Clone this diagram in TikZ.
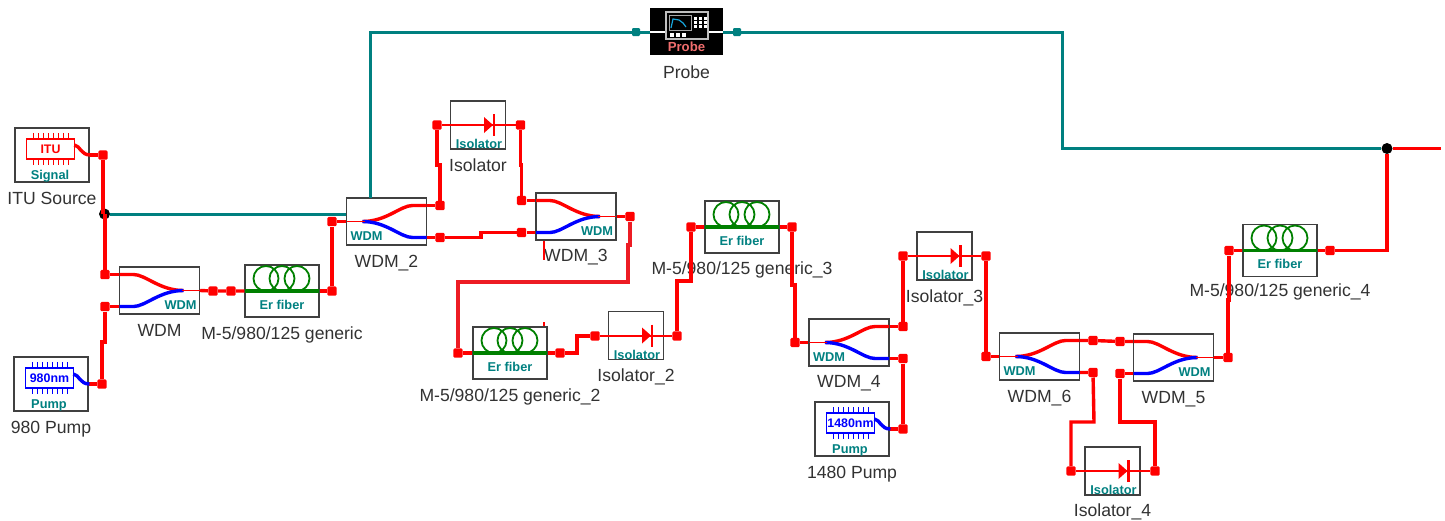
\documentclass[tikz,border=0pt]{standalone}
\usepackage{fontspec}
\setmainfont{Liberation Sans}
\usepackage{tikz}
\usetikzlibrary{positioning}

\definecolor{tealline}{RGB}{0,128,128}
\definecolor{coilgreen}{RGB}{0,128,0}
\definecolor{labelgray}{RGB}{50,50,50}
\definecolor{probepink}{RGB}{240,110,110}
\definecolor{softred}{RGB}{237,28,36}

\tikzset{
    main box/.style={rectangle, draw=black!75, line width=0.7pt, inner sep=0pt},
    coupler box/.style={main box, minimum width=40pt, minimum height=23.5pt},
    fiber box/.style={main box, minimum width=37pt, minimum height=26pt},
    iso box/.style={main box, minimum width=27.5pt, minimum height=24pt},
    source box/.style={main box, minimum width=37pt, minimum height=27pt},
    wire/.style={draw=red, line width=1.7pt, line join=miter},
    thin wire/.style={draw=red, line width=1.2pt},
    link/.style={draw=tealline, line width=1.5pt},
    port/.style={rectangle, rounded corners=0.6pt, fill=red, minimum size=4.6pt, inner sep=0pt},
    teal port/.style={port, fill=tealline, minimum size=4pt},
    joint/.style={circle, fill=black, minimum size=5.5pt, inner sep=0pt},
    tag/.style={font=\fontsize{8.8}{10}\selectfont, text=labelgray, text height=6.5pt,
        text depth=1.8pt, inner sep=0pt},
    small tag/.style={font=\fontsize{6.4}{7}\selectfont\bfseries, text=tealline, inner sep=0pt},
    pics/coupler/.style 2 args={code={
        \draw[red, line width=1.7pt] (#1*-40,-16) -- (#1*-26,-16)
            .. controls (#1*-14,-16) and (#1*0,0) .. (#1*24,0);
        \draw[blue, line width=1.7pt] (#1*-40,16) -- (#1*-26,16)
            .. controls (#1*-14,16) and (#1*0,0) .. (#1*24,0);
        \draw[red, line width=0.8pt] (#1*22,0) -- (#1*40,0);
        \node[small tag] (-text) at (#1*#2,14.5) {WDM};
    }},
    pics/coils/.style={code={
        \foreach \cx in {-16,0,15}
            \draw[coilgreen, line width=0.9pt] (\cx,-12.5) circle [radius=12.5];
        \draw[coilgreen, line width=1.7pt] (-37,0) -- (37,0);
        \node[small tag] (-text) at (0,13.5) {Er fiber};
    }},
    pics/diode/.style={code={
        \fill[red] (6,-8) -- (15,0) -- (6,8) -- cycle;
        \draw[red, line width=1.3pt] (16,-11) -- (16,11);
        \node[small tag] (-text) at (1,19) {Isolator};
    }},
    pics/chip/.style n args={3}{code={
        \begin{scope}[shift={(-1.5,-6)}]
            \draw[#1, line width=0.9pt] (-24,-10) rectangle (24,10);
            \foreach \px in {-17,-12,...,18} {
                \draw[#1, line width=0.7pt] (\px,-16) -- (\px,-10);
                \draw[#1, line width=0.7pt] (\px,10) -- (\px,16);
            }
            \node[font=\fontsize{6.2}{7}\selectfont\bfseries, text=#1, inner sep=0pt] (-name) at (0,0) {#2};
            \node[small tag] (-text) at (-0.5,27) {#3};
            \draw[#1, line width=1.7pt] (24,-4) .. controls (30,-3) and (30,6) .. (40,6);
        \end{scope}
    }},
}

\begin{document}
\begin{tikzpicture}[x=0.5pt, y=-0.5pt]
    \useasboundingbox (0,0) rectangle (1445,520);

    % sources, couplers, fibers, isolators
    \node[source box] (itu) at (52,155) {};
    \node[source box] (pump) at (51,384) {};
    \node[source box] (pumpb) at (852,429) {};
    \node[coupler box] (wdm) at (159.5,290.5) {};
    \node[coupler box] (wdmb) at (386.5,221.5) {};
    \node[coupler box] (wdmc) at (576,216.5) {};
    \node[coupler box] (wdmd) at (849,342.5) {};
    \node[coupler box] (wdmf) at (1039.5,356.5) {};
    \node[coupler box] (wdme) at (1173.5,357.5) {};
    \node[fiber box] (fiber) at (282,291) {};
    \node[fiber box] (fiberb) at (510,353) {};
    \node[fiber box] (fiberc) at (742,227) {};
    \node[fiber box] (fiberd) at (1280,250.5) {};
    \node[iso box] (iso) at (478,125) {};
    \node[iso box] (isob) at (636,335.5) {};
    \node[iso box] (isoc) at (944.5,256) {};
    \node[iso box] (isod) at (1112.5,471) {};
    \node[rectangle, fill=black, minimum width=36.5pt, minimum height=23.5pt, inner sep=0pt] (probe) at (686.5,31.5) {};

    % labels under the boxes
    \node[tag, below=4pt of itu] (ituname) {ITU Source};
    \node[tag, below=4pt of pump] (pumpname) {980 Pump};
    \node[tag, below=4pt of pumpb] (pumpbname) {1480 Pump};
    \node[tag, below=4pt of wdm] (wdmname) {WDM};
    \node[tag, below=4pt of wdmb] (wdmbname) {WDM\_2};
    \node[tag, below=3.5pt of wdmc] (wdmcname) {WDM\_3};
    \node[tag, below=3.5pt of wdmd] (wdmdname) {WDM\_4};
    \node[tag, below=4pt of wdmf] (wdmfname) {WDM\_6};
    \node[tag, below=4pt of wdme] (wdmename) {WDM\_5};
    \node[tag, below=4pt of fiber] (fibername) {M-5/980/125 generic};
    \node[tag, below=4pt of fiberb] (fiberbname) {M-5/980/125 generic\_2};
    \node[tag, below=3.5pt of fiberc] (fibercname) {M-5/980/125 generic\_3};
    \node[tag, below=3pt of fiberd] (fiberdname) {M-5/980/125 generic\_4};
    \node[tag, below=4pt of iso] (isoname) {Isolator};
    \node[tag, below=4pt of isob] (isobname) {Isolator\_2};
    \node[tag, below=4pt of isoc] (isocname) {Isolator\_3};
    \node[tag, below=3.5pt of isod] (isodname) {Isolator\_4};
    \node[tag, below=5pt of probe] (probename) {Probe};

    % ports
    \node[port] (a1) at (103,155) {};
    \node[port] (a2) at (105,274.5) {};
    \node[port] (a3) at (105,306.5) {};
    \node[port] (a4) at (102,384) {};
    \node[port] (a5) at (213,291) {};
    \node[port] (a6) at (231,291) {};
    \node[port] (a7) at (332,291) {};
    \node[port] (a8) at (332,221.5) {};
    \node[port] (b1) at (440,205.5) {};
    \node[port] (b2) at (440,237.5) {};
    \node[port] (b3) at (437,125) {};
    \node[port] (b4) at (520.5,125) {};
    \node[port] (b5) at (521.5,200.5) {};
    \node[port] (b6) at (521.5,232.5) {};
    \node[port] (b7) at (630,216.5) {};
    \node[port] (c1) at (458,353) {};
    \node[port] (c2) at (560,353) {};
    \node[port] (c3) at (595,336) {};
    \node[port] (c4) at (677,336) {};
    \node[port] (c5) at (691,227) {};
    \node[port] (c6) at (792,227) {};
    \node[port] (d1) at (795,342.5) {};
    \node[port] (d2) at (903,326.5) {};
    \node[port] (d3) at (903,358.5) {};
    \node[port] (d4) at (903,429) {};
    \node[port] (d5) at (903,256) {};
    \node[port] (d6) at (986,256) {};
    \node[port] (e1) at (986,356.5) {};
    \node[port] (e2) at (1093,340.5) {};
    \node[port] (e3) at (1120,341.5) {};
    \node[port] (e4) at (1093,372.5) {};
    \node[port] (e5) at (1120,373.5) {};
    \node[port] (e6) at (1071,471) {};
    \node[port] (e7) at (1155,471) {};
    \node[port] (e8) at (1228,357.5) {};
    \node[port] (e9) at (1229,250.5) {};
    \node[port] (f1) at (1330,250.5) {};
    \node[teal port] (t1) at (636,32) {};
    \node[teal port] (t2) at (737,32) {};
    \node[joint] (dot) at (104.5,214) {};
    \node[joint] (dotb) at (1387,148.5) {};
    \coordinate (tap) at (370,198);
    \coordinate (outlet) at (1441,148.5);
    \coordinate (stubc) at (544,260);
    \coordinate (stubf) at (544,322);

    % teal branch through the probe
    \draw[link] (dot) -- (dot -| wdmb.west);
    \draw[link] (tap) -- (370,32) -- (t1) -- (probe.west |- t1);
    \draw[link] (probe.east |- t2) -- (t2) -- (1062,32) -- (1062,148.5) -- (dotb);

    % red fibre runs
    \draw[wire] (itu.east) -- (a1);
    \draw[wire] (a1) -- (103,214);
    \draw[wire] (105,214) -- (a2);
    \draw[wire] (a2) -- (a2 -| wdm.west);
    \draw[wire] (a3) -- (a3 -| wdm.west);
    \draw[wire] (a3) -- (105,342) -- (102,342) -- (a4);
    \draw[wire] (pump.east) -- (a4);
    \draw[wire] (wdm.east) -- (a5) -- (a6) -- (fiber.west);
    \draw[wire] (fiber.east) -- (a7) -- (a8);
    \draw[wire] (a8) -- (a8 -| wdmb.west);
    \draw[wire] (b1 -| wdmb.east) -- (b1);
    \draw[wire] (b2 -| wdmb.east) -- (b2) -- (481,237.5) -- (481,232.5) -- (b6);
    \draw[wire] (b1) -- (440,165) -- (437,165) -- (b3);
    \draw[thin wire] (b3) -- (b4);
    \draw[wire] (b4) -- (520.5,165) -- (521.5,165) -- (b5);
    \draw[wire] (b5) -- (b5 -| wdmc.west);
    \draw[wire] (b6) -- (b6 -| wdmc.west);
    \draw[wire] (wdmc.east) -- (b7);
    \draw[wire, draw=softred] (b7) -- (630,245) -- (628,245) -- (628,282) -- (458,282) -- (c1);
    \draw[wire] (c1) -- (fiberb.west);
    \draw[thin wire] (wdmc.south -| stubc) -- (stubc);
    \draw[thin wire] (fiberb.north -| stubf) -- (stubf);
    \draw[wire] (fiberb.east) -- (c2) -- (577,353) -- (577,336) -- (c3);
    \draw[thin wire] (c3) -- (c4);
    \draw[wire] (c4) -- (677,281) -- (691,281) -- (c5);
    \draw[wire] (c5) -- (fiberc.west);
    \draw[wire] (fiberc.east) -- (c6) -- (792,285) -- (795,285) -- (d1);
    \draw[wire] (d1) -- (wdmd.west);
    \draw[wire] (d2 -| wdmd.east) -- (d2) -- (d5);
    \draw[wire] (d3 -| wdmd.east) -- (d3) -- (d4);
    \draw[wire] (pumpb.east) -- (d4);
    \draw[thin wire] (d5) -- (d6);
    \draw[wire] (d6) -- (e1);
    \draw[wire] (e1) -- (wdmf.west);
    \draw[wire] (e2 -| wdmf.east) -- (e2) -- (e3) -- (e3 -| wdme.west);
    \draw[wire] (e4 -| wdmf.east) -- (e4) -- (1094,422) -- (1071,422) -- (e6);
    \draw[wire] (e5 -| wdme.west) -- (e5) -- (1120,422) -- (1155,422) -- (e7);
    \draw[thin wire] (e6) -- (e7);
    \draw[wire] (wdme.east) -- (e8);
    \draw[wire] (e8) -- (1228,300) -- (1229,300) -- (e9);
    \draw[wire] (e9) -- (fiberd.west);
    \draw[wire] (fiberd.east) -- (f1) -- (1387,250.5) -- (dotb);
    \draw[wire] (dotb) -- (outlet);

    % what is printed inside the boxes
    \pic (ituicon) at (itu) {chip={red}{ITU}{Signal}};
    \pic (pumpicon) at (pump) {chip={blue}{980nm}{Pump}};
    \pic (pumpbicon) at (pumpb) {chip={blue}{1480nm}{Pump}};
    \pic (wdmicon) at (wdm) {coupler={1}{21}};
    \pic (wdmbicon) at (wdmb) {coupler={-1}{20}};
    \pic (wdmcicon) at (wdmc) {coupler={1}{21}};
    \pic (wdmdicon) at (wdmd) {coupler={-1}{20}};
    \pic (wdmficon) at (wdmf) {coupler={-1}{20}};
    \pic (wdmeicon) at (wdme) {coupler={1}{21}};
    \pic (fibericon) at (fiber) {coils};
    \pic (fiberbicon) at (fiberb) {coils};
    \pic (fibercicon) at (fiberc) {coils};
    \pic (fiberdicon) at (fiberd) {coils};
    \pic (isoicon) at (iso) {diode};
    \pic (isobicon) at (isob) {diode};
    \pic (isocicon) at (isoc) {diode};
    \pic (isodicon) at (isod) {diode};

    % probe front panel
    \draw[white, line width=0.8pt] (650,32) -- (723,32);
    \draw[black!25, fill=black, line width=0.8pt] (666,12) rectangle (708,39);
    \draw[black!35, line width=0.5pt] (669,15) rectangle (691,30);
    \draw[cyan!80!teal, line width=0.6pt] (671,28) -- (673,19) -- (679,20) -- (683,23) -- (686,27);
    \foreach \bx in {670,676,682}
        \fill[white] (\bx,33) rectangle ++(4,4);
    \foreach \bx in {694,699,704}
        \foreach \by in {17,21,25}
            \fill[white] (\bx,\by) rectangle ++(3,3);
    \node[font=\fontsize{6.6}{7}\selectfont\bfseries, text=probepink, inner sep=0pt] (probetext) at (686.5,47) {Probe};
\end{tikzpicture}
\end{document}
